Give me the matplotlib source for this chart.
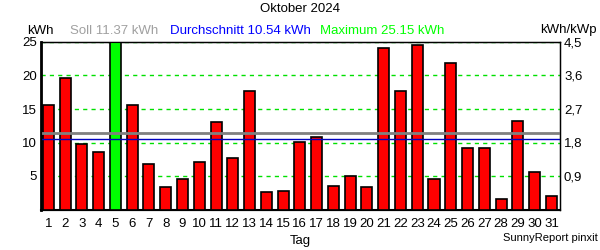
import matplotlib
matplotlib.use('Agg')
from matplotlib import pyplot as plt

plt.rcParams['font.family'] = ['Liberation Sans', 'DejaVu Sans']

# daily yield in kWh
days = list(range(1, 32))
kwh = [15.6, 19.6, 9.8, 8.6, 25.15, 15.6, 6.85, 3.3, 4.6, 7.15,
       13.1, 7.75, 17.7, 2.55, 2.7, 10.1, 10.85, 3.5, 4.95, 3.3,
       24.05, 17.7, 24.5, 4.5, 21.85, 9.2, 9.2, 1.5, 13.2, 5.65, 2.0]
soll = 11.37
avg = 10.54
max_val = 25.15
left_ticks = [5, 10, 15, 20, 25]
right_ticks = [0.9, 1.8, 2.7, 3.6, 4.5]

fig = plt.figure(figsize=(6, 2.5), dpi=100)
ax = fig.add_axes([0.068, 0.162, 0.865, 0.670])

colors = ['#00ff00' if v == max_val else '#ff0000' for v in kwh]
ax.bar(days, kwh, width=0.66, color=colors, edgecolor='black', linewidth=1.2, zorder=3)

for t in left_ticks:
    ax.axhline(t, color='#00e000', linestyle=(0, (3, 3)), linewidth=1, zorder=1)
ax.axhline(soll, color='#808080', linewidth=2, zorder=4)
ax.axhline(avg, color='#0000c0', linewidth=1, zorder=4)

ax.set_xlim(0.55, 31.5)
ax.set_ylim(0, 25)
ax.set_xticks(days)
ax.set_xticklabels([str(d) for d in days], fontsize=9.5)
ax.set_yticks(left_ticks)
ax.set_yticklabels([str(t) for t in left_ticks], fontsize=9.5)
ax.tick_params(axis='x', length=0, pad=6)
ax.tick_params(axis='y', length=0, pad=3)
for s in ax.spines.values():
    s.set_linewidth(1)
ax.spines['left'].set_linewidth(2)
ax.spines['bottom'].set_linewidth(1.5)

ax2 = ax.twinx()
ax2.set_ylim(0, 4.5)
ax2.set_yticks(right_ticks)
ax2.set_yticklabels([str(t).replace('.', ',') for t in right_ticks], fontsize=9.5)
ax2.tick_params(length=0, pad=3)

ax.set_xlabel('Tag', fontsize=9.5, labelpad=4)

fig.text(0.5, 0.966, 'Oktober 2024', ha='center', va='center', fontsize=9.5)
fig.text(0.045, 0.878, 'kWh', ha='left', va='center', fontsize=9.5)
fig.text(0.995, 0.878, 'kWh/kWp', ha='right', va='center', fontsize=9.5)
fig.text(0.117, 0.878, 'Soll %.2f kWh' % soll, ha='left', va='center', fontsize=9.5, color='#a0a0a0')
fig.text(0.283, 0.878, 'Durchschnitt %.2f kWh' % avg, ha='left', va='center', fontsize=9.5, color='#0000ff')
fig.text(0.533, 0.878, 'Maximum %.2f kWh' % max_val, ha='left', va='center', fontsize=9.5, color='#00ff00')
fig.text(0.997, 0.048, 'SunnyReport pinxit', ha='right', va='center', fontsize=8)

fig.savefig('out.png', dpi=100)
